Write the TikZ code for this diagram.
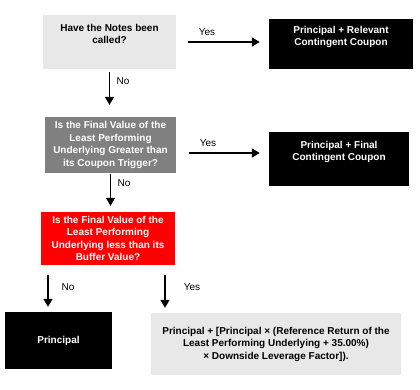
\documentclass[tikz,border=0pt]{standalone}
\usepackage{fontspec}
\setmainfont{Liberation Sans}
\usetikzlibrary{arrows.meta}

\definecolor{lightbox}{HTML}{E8E8E8}
\definecolor{greybox}{HTML}{808080}
\definecolor{redbox}{HTML}{FF0000}

\begin{document}
\begin{tikzpicture}[x=1pt,y=-1pt,
	box/.style 2 args={minimum width=#1,minimum height=#2,inner sep=0pt,align=center,font=\fontsize{10}{12.5}\selectfont\bfseries},
	light box/.style={fill=lightbox,text=black},
	grey box/.style={fill=greybox,text=white},
	red box/.style={fill=redbox,text=white},
	dark box/.style={fill=black,text=white},
	flow/.style={line width=1.4pt,-{Triangle[length=8pt,width=9pt]}},
	answer/.style={font=\fontsize{10}{12}\selectfont,inner sep=0pt}]
	\useasboundingbox (0,0) rectangle (420,389);
	% questions
	\node[box={133pt}{54pt},light box] (q1) at (109.5,42) {Have the Notes been\\called?\\[4pt]};
	\node[box={131pt}{56pt},grey box] (q2) at (110.5,145) {Is the Final Value of the\\Least Performing\\Underlying Greater than\\its Coupon Trigger?};
	\node[box={134pt}{53pt},red box] (q3) at (108,238.5) {Is the Final Value of the\\Least Performing\\Underlying less than its\\Buffer Value?};
	% results
	\node[box={144pt}{50pt},dark box] (r1) at (341,44) {Principal + Relevant\\Contingent Coupon\\[4pt]};
	\node[box={140pt}{54pt},dark box] (r2) at (339,159) {Principal + Final\\Contingent Coupon\\[4pt]};
	\node[box={107pt}{57pt},dark box] (r3) at (58.5,340.5) {Principal};
	\node[box={250pt}{62pt},light box] (r4) at (276,344) {Principal + [Principal × (Reference Return of the\\Least Performing Underlying + 35.00\%)\\× Downside Leverage Factor]).};
	% arrows
	\coordinate (m1) at (0,42);
	\coordinate (m2) at (0,153);
	\coordinate (laneno) at (48,0);
	\coordinate (laneyes) at (165,0);
	\draw[flow,shorten <=12pt,shorten >=9pt] (q1.east |- m1) -- (r1.west |- m1);
	\draw[flow,shorten <=13pt,shorten >=9pt] (q2.east |- m2) -- (r2.west |- m2);
	\draw[flow,shorten <=3pt,shorten >=12pt] (q1.south) -- (q2.north -| q1.south);
	\draw[flow,shorten <=1pt,shorten >=6pt] (q2.south) -- (q3.north -| q2.south);
	\draw[flow,shorten <=10pt,shorten >=5pt] (q3.south -| laneno) -- (r3.north -| laneno);
	\draw[flow,shorten <=10pt,shorten >=5pt] (q3.south -| laneyes) -- (r4.north -| laneyes);
	% answers
	\node[answer] (yes1) at (207,32) {Yes};
	\node[answer] (no1) at (123,81) {No};
	\node[answer] (yes2) at (208,143) {Yes};
	\node[answer] (no2) at (124,183) {No};
	\node[answer] (no3) at (68,287) {No};
	\node[answer] (yes3) at (192,287) {Yes};
\end{tikzpicture}
\end{document}
